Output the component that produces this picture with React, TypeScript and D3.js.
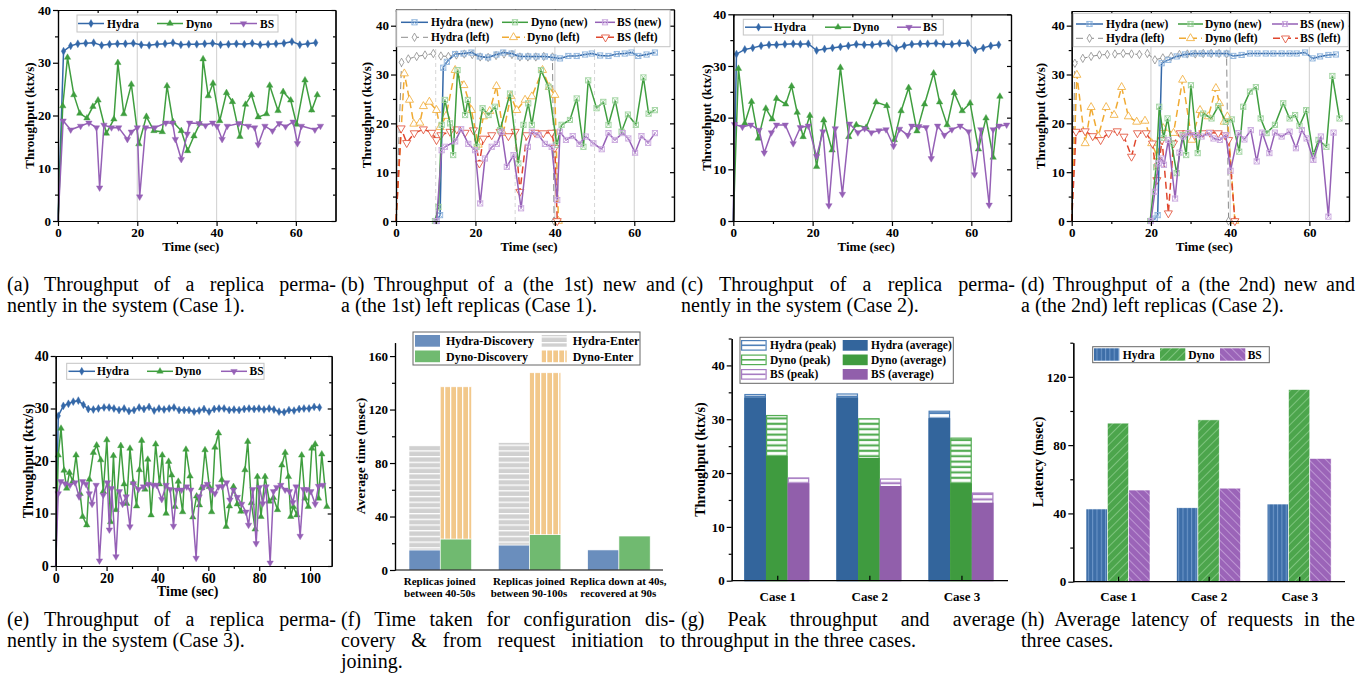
import React, { useEffect, useRef } from 'react';
import * as d3 from 'd3';

const SERIF = '"Liberation Serif", "Times New Roman", Times, serif';

const BLUE = '#3468a8';
const GREEN = '#3f9e3f';
const PURPLE = '#9560b6';
const GREY = '#8c8c8c';
const ORANGE = '#f0aa32';
const RED = '#e0472e';
const GRID = '#d6d6d6';

// (a) case 1, replica permanently in the system
const aHydraT = [0, 1.4, 3.2, 5, 7, 9, 11, 13, 15, 17, 19, 21, 23, 25, 27, 29, 31, 33, 35, 37, 39, 41, 43, 45, 47, 49, 51, 53, 55, 57, 59, 61, 63, 65];
const aHydraV = [0, 32.2, 33.2, 33.6, 33.7, 33.8, 33.3, 33.5, 33.6, 33.6, 33.7, 33.4, 33.3, 33.5, 33.6, 33.8, 33.4, 33.5, 33.5, 33.6, 33.7, 33.4, 33.5, 33.6, 33.5, 33.7, 33.4, 33.5, 33.6, 33.7, 34.0, 33.4, 33.6, 33.8];
const aDynoT = [0, 1.2, 2.4, 4.0, 5.5, 7.3, 8.8, 10.1, 12.2, 14.1, 15.1, 16.6, 18.5, 20.4, 22.3, 24.2, 26.3, 27.5, 29.0, 31.1, 32.7, 34.3, 35.8, 36.6, 37.9, 39.1, 40.8, 42.5, 44.0, 45.9, 47.3, 48.8, 50.5, 52.6, 53.4, 55.5, 56.8, 58.7, 60.2, 62.3, 64.0, 65.4];
const aDynoV = [0, 21.8, 31.0, 23.9, 20.4, 19.5, 21.7, 22.9, 16.6, 19.3, 30.0, 20.3, 25.9, 14.6, 19.8, 17.1, 16.9, 25.6, 18.8, 17.1, 13.3, 16.1, 18.5, 30.7, 23.7, 26.1, 19.0, 24.3, 22.6, 16.0, 22.1, 23.9, 19.7, 20.3, 25.7, 20.9, 24.5, 22.9, 18.3, 26.7, 21.0, 23.9];
const aBsT = [0, 1.3, 3.2, 5.7, 7.8, 9.7, 10.5, 11.6, 13.5, 15.3, 17.5, 18.5, 20.0, 20.6, 22.1, 24.4, 27.2, 28.9, 29.6, 31.1, 32.6, 33.2, 35.6, 37.2, 39.0, 40.1, 41.4, 42.7, 45.6, 48.0, 49.6, 50.5, 52.2, 54.1, 55.8, 57.4, 59.3, 60.4, 61.4, 64.8, 66.2];
const aBsV = [0, 19.0, 17.3, 18.0, 18.6, 17.7, 6.3, 18.2, 17.7, 17.7, 15.5, 16.9, 17.7, 4.6, 17.7, 17.7, 18.6, 18.6, 15.5, 11.7, 16.5, 18.6, 18.5, 18.1, 18.6, 18.0, 15.5, 18.0, 18.5, 18.0, 17.7, 14.5, 18.0, 17.1, 18.5, 17.9, 18.8, 14.7, 18.0, 17.3, 18.0];

// (b) case 1, new and left replicas
const bHydraLeftT = [0, 1.4, 3.1, 5.2, 7.3, 9.4, 11.3, 13.2, 15.2, 17.2, 19.2, 21.2, 23.2, 25.2, 27.2, 29.2, 31.2, 33.2, 35.2, 37.2, 39.4, 39.8];
const bHydraLeftV = [0, 32.5, 33.2, 33.7, 34.0, 34.3, 33.8, 33.7, 34.0, 34.2, 34.1, 33.6, 33.5, 33.9, 34.2, 34.1, 33.6, 33.6, 33.6, 33.7, 33.6, 0];
const bDynoLeftT = [0, 2.1, 3.4, 4.5, 6.0, 6.9, 8.4, 10.2, 11.1, 12.6, 14.9, 17.1, 19.0, 20.7, 22.0, 23.6, 25.3, 27.0, 28.9, 30.4, 32.5, 34.2, 36.9, 38.6, 40.0, 40.9];
const bDynoLeftV = [0, 30.2, 24.8, 19.9, 20.1, 23.5, 24.4, 22.7, 19.2, 21.5, 30.9, 27.8, 22.7, 15.6, 21.4, 22.5, 27.6, 18.0, 25.6, 22.7, 24.8, 25.5, 30.9, 27.4, 25.8, 0];
const bBsLeftT = [0, 1.3, 2.7, 4.6, 6.9, 9.0, 10.2, 11.3, 13.6, 15.3, 17.4, 19.5, 21.0, 22.0, 24.1, 26.2, 28.3, 30.0, 31.2, 32.9, 35.0, 37.1, 39.2, 40.0, 40.6];
const bBsLeftV = [0, 19.0, 16.0, 18.0, 18.8, 18.1, 16.6, 17.6, 18.3, 18.8, 18.1, 18.6, 11.8, 16.9, 17.6, 18.3, 17.4, 18.3, 6.0, 17.6, 18.1, 18.0, 18.1, 15.0, 0];
const bHydraNewT = [10.2, 11.1, 11.9, 12.8, 14.9, 17.0, 19.0, 21.1, 23.2, 25.3, 27.0, 29.1, 31.2, 33.3, 35.4, 37.5, 39.6, 41.3, 43.4, 45.5, 47.6, 49.3, 51.4, 53.5, 55.6, 57.6, 59.3, 61.0, 63.1, 65.2];
const bHydraNewV = [0, 1.2, 31.4, 32.6, 34.2, 34.3, 34.5, 33.7, 33.5, 34.1, 34.5, 34.3, 33.7, 33.7, 33.7, 33.7, 33.5, 33.3, 33.8, 33.8, 34.1, 34.3, 33.9, 33.8, 34.2, 34.3, 34.5, 33.8, 34.1, 34.5];
const bDynoNewT = [9.8, 10.7, 11.5, 12.3, 13.6, 14.4, 15.5, 17.4, 18.1, 20.3, 21.8, 23.3, 24.9, 26.2, 28.7, 30.8, 32.1, 33.3, 34.2, 36.5, 38.4, 40.5, 41.7, 43.8, 45.5, 47.2, 48.4, 50.5, 52.2, 53.5, 55.2, 56.8, 58.4, 60.4, 62.3, 63.6, 65.2];
const bDynoNewV = [0, 2.9, 19.7, 24.8, 20.0, 13.5, 30.9, 21.7, 24.8, 15.2, 23.1, 21.7, 23.4, 18.6, 26.1, 11.8, 19.7, 24.1, 19.7, 30.9, 27.5, 15.6, 19.7, 20.7, 25.1, 15.2, 28.8, 23.1, 24.4, 19.7, 24.7, 18.3, 21.8, 19.7, 29.4, 22.0, 22.7];
const bBsNewT = [10.2, 11.5, 12.3, 14.9, 16.4, 18.2, 19.9, 21.2, 22.4, 24.1, 25.4, 26.6, 27.9, 29.6, 31.5, 33.2, 34.2, 35.9, 37.5, 39.2, 40.6, 41.3, 42.8, 44.5, 46.2, 47.8, 49.7, 51.8, 53.5, 55.1, 57.1, 58.5, 60.2, 61.8, 63.5, 65.2];
const bBsNewV = [0, 14.5, 15.2, 16.3, 18.8, 15.8, 14.5, 3.6, 12.8, 15.2, 15.8, 18.3, 11.1, 13.5, 2.6, 15.2, 18.3, 17.6, 15.8, 15.2, 4.3, 18.3, 16.6, 17.4, 15.8, 17.3, 15.9, 14.7, 18.0, 16.6, 18.0, 16.9, 14.0, 17.4, 16.0, 18.0];

// (c) case 2, replica permanently in the system
const cHydraT = [0, 0.8, 2.9, 4.9, 7.0, 9.0, 10.9, 13.0, 15.1, 16.9, 18.9, 21.0, 23.0, 25.0, 27.0, 29.0, 31.0, 33.0, 35.0, 37.0, 39.1, 41.1, 43.1, 45.0, 47.1, 49.0, 51.1, 53.0, 55.1, 57.0, 59.1, 61.0, 63.0, 64.9, 66.9];
const cHydraV = [0, 32.3, 33.2, 33.5, 33.9, 34.1, 34.1, 34.2, 34.3, 34.2, 34.3, 33.0, 33.3, 33.5, 33.7, 33.9, 34.2, 34.1, 34.1, 34.3, 34.4, 33.4, 33.9, 34.2, 34.3, 34.3, 34.4, 34.2, 34.2, 34.4, 34.4, 33.1, 33.5, 33.9, 34.1];
const cDynoT = [0, 1.3, 2.9, 4.6, 6.3, 8.2, 9.8, 10.9, 13.2, 14.7, 16.1, 17.6, 19.3, 21.0, 22.8, 24.9, 27.0, 29.1, 31.0, 33.5, 36.0, 38.7, 40.6, 42.3, 44.2, 46.3, 48.2, 50.5, 52.0, 53.9, 55.7, 57.7, 59.7, 61.8, 63.7, 65.5, 67.2];
const cDynoV = [0, 29.5, 18.9, 23.1, 16.0, 21.8, 19.7, 23.7, 22.6, 26.1, 21.0, 16.3, 20.4, 10.5, 19.5, 13.7, 29.7, 16.3, 18.6, 18.1, 23.0, 22.3, 15.7, 21.3, 25.8, 17.4, 22.6, 28.6, 23.0, 18.6, 24.8, 21.3, 22.8, 13.9, 19.9, 12.3, 24.1];
const cBsT = [0, 0.3, 2.3, 4.4, 6.5, 7.8, 9.6, 10.9, 13.1, 15.1, 16.9, 18.9, 21.0, 22.6, 24.1, 25.7, 27.5, 29.3, 31.4, 33.1, 34.8, 36.7, 38.5, 40.4, 41.9, 44.0, 45.0, 46.8, 48.6, 49.9, 51.5, 53.2, 55.1, 57.2, 59.3, 60.8, 62.4, 64.5, 65.5, 67.0, 68.9];
const cBsV = [0, 18.7, 18.2, 18.6, 17.6, 13.2, 17.1, 18.6, 18.6, 15.0, 18.1, 18.4, 12.5, 17.3, 3.0, 17.9, 5.2, 18.8, 17.1, 17.9, 17.1, 17.5, 17.7, 14.5, 17.8, 16.6, 18.4, 18.3, 18.1, 12.1, 18.4, 16.6, 17.7, 18.4, 17.3, 9.0, 17.7, 3.1, 17.7, 18.4, 18.6];

// (d) case 2, new and left replicas
const dHydraLeftT = [0, 0.8, 2.8, 4.9, 7.0, 9.0, 10.9, 13.0, 15.1, 17.1, 19.1, 21.0, 23.0, 25.1, 27.2, 29.2, 31.2, 33.2, 35.2, 37.2, 39.1, 39.6];
const dHydraLeftV = [0, 32.3, 33.3, 33.7, 34.0, 34.1, 34.2, 34.3, 34.2, 34.1, 34.3, 33.0, 33.4, 33.7, 34.1, 34.2, 34.2, 34.3, 34.3, 34.3, 34.2, 0];
const dDynoLeftT = [0, 1.3, 3.4, 4.9, 6.7, 8.7, 10.7, 12.6, 14.3, 16.4, 18.5, 20.2, 21.6, 23.1, 25.7, 28.0, 30.3, 32.4, 34.5, 36.4, 37.3, 38.5, 39.3, 41.2];
const dDynoLeftV = [0, 29.9, 15.9, 23.3, 17.3, 23.3, 21.7, 27.4, 21.4, 20.3, 20.5, 15.9, 13.2, 19.0, 18.0, 28.9, 16.6, 22.7, 21.4, 27.2, 24.1, 20.3, 21.4, 0];
const dBsLeftT = [0, 1.1, 3.4, 5.3, 7.3, 9.3, 11.5, 13.2, 15.1, 16.6, 18.8, 20.4, 21.5, 22.8, 24.4, 25.7, 27.4, 29.0, 31.1, 33.1, 34.9, 37.0, 38.7, 39.6, 41.2];
const dBsLeftV = [0, 18.3, 18.4, 17.4, 16.6, 18.0, 18.4, 17.3, 13.2, 18.0, 18.0, 15.9, 8.4, 16.6, 1.6, 15.9, 18.0, 18.0, 17.6, 18.0, 18.1, 18.0, 17.6, 16.6, 0];
const dHydraNewT = [20.0, 21.0, 21.7, 22.7, 24.4, 26.5, 28.6, 30.7, 32.8, 34.9, 37.0, 39.1, 40.8, 42.9, 45.0, 46.9, 49.0, 50.9, 53.0, 55.0, 56.8, 58.9, 60.8, 62.7, 64.8, 66.7];
const dHydraNewV = [0, 0.5, 1.2, 32.3, 33.0, 33.7, 34.1, 34.3, 34.3, 34.3, 34.3, 34.3, 33.8, 34.0, 34.3, 34.3, 34.3, 34.3, 34.3, 34.3, 34.3, 34.5, 33.3, 33.7, 34.0, 34.1];
const dDynoNewT = [19.8, 21.3, 22.1, 23.2, 24.2, 25.2, 26.5, 28.0, 28.9, 30.1, 31.8, 33.2, 35.3, 37.0, 38.9, 40.4, 42.3, 43.3, 45.0, 46.5, 47.7, 49.2, 51.3, 53.4, 55.0, 56.4, 57.5, 59.2, 61.0, 62.3, 64.3, 65.8, 67.6];
const dDynoNewV = [0, 11.0, 23.4, 17.0, 21.0, 15.9, 9.8, 17.6, 13.5, 27.8, 13.9, 22.0, 21.0, 23.5, 20.3, 20.8, 14.2, 23.4, 26.5, 27.4, 21.0, 18.0, 19.7, 24.1, 21.0, 21.7, 19.5, 22.7, 13.5, 16.6, 15.2, 29.7, 21.0];
const dBsNewT = [20.0, 21.0, 21.9, 22.7, 23.3, 24.4, 26.1, 27.2, 28.2, 29.5, 31.3, 32.8, 34.7, 35.8, 37.4, 38.9, 40.1, 42.1, 43.6, 45.2, 46.7, 48.1, 49.9, 51.3, 53.0, 55.0, 56.6, 58.1, 59.3, 61.0, 62.9, 64.8, 66.1];
const dBsNewV = [0, 6.0, 11.8, 12.8, 11.5, 16.6, 4.6, 14.0, 17.3, 18.0, 17.6, 17.3, 18.0, 16.9, 16.6, 17.6, 10.3, 18.0, 16.7, 18.6, 12.2, 18.1, 13.9, 18.1, 17.3, 18.3, 14.9, 18.6, 16.9, 12.5, 17.3, 0.9, 18.1];

// (e) case 3, replica permanently in the system
const eHydraT = [0, 1.0, 3.0, 5.0, 6.9, 8.9, 10.9, 12.8, 14.8, 16.8, 19.0, 21.0, 22.9, 24.9, 26.9, 28.8, 30.8, 32.8, 34.7, 36.7, 38.7, 40.6, 42.6, 44.6, 46.5, 48.5, 50.5, 52.4, 54.4, 56.4, 58.3, 60.3, 62.3, 64.2, 66.2, 68.2, 70.1, 72.1, 74.1, 76.0, 78.0, 79.9, 81.9, 83.9, 85.8, 87.8, 89.8, 91.7, 93.7, 95.7, 97.6, 99.6, 101.6, 103.7];
const eHydraV = [0, 28.6, 30.5, 30.9, 31.3, 31.5, 30.7, 29.9, 29.8, 30.0, 30.2, 30.2, 30.0, 29.7, 30.0, 29.5, 29.7, 30.2, 29.9, 30.3, 29.6, 30.0, 29.8, 30.0, 30.2, 29.7, 29.7, 29.7, 29.4, 29.6, 29.9, 29.4, 29.9, 30.0, 30.0, 29.7, 29.8, 29.7, 29.9, 30.0, 29.9, 30.0, 29.8, 30.0, 29.8, 29.4, 29.3, 29.7, 29.6, 29.9, 30.0, 30.0, 30.3, 30.2];
const eDynoT = [0, 1.0, 2.1, 3.3, 4.3, 5.4, 6.7, 8.0, 9.6, 10.6, 12.2, 13.2, 14.8, 16.1, 17.7, 18.7, 20.1, 21.6, 22.7, 23.7, 25.6, 26.9, 27.9, 29.2, 30.5, 31.8, 32.9, 33.8, 35.1, 36.2, 37.5, 39.3, 40.8, 41.9, 43.4, 44.4, 45.6, 46.9, 48.2, 49.9, 51.2, 52.8, 53.9, 55.4, 56.5, 57.4, 58.7, 60.4, 61.3, 62.6, 64.0, 65.3, 67.0, 68.3, 69.9, 71.4, 72.8, 74.4, 75.5, 76.9, 78.4, 79.3, 80.7, 82.3, 84.0, 85.6, 87.2, 88.9, 90.2, 91.5, 92.4, 93.4, 94.8, 96.7, 98.0, 99.3, 100.7, 102.0, 103.3, 104.6, 106.6];
const eDynoV = [0, 21.1, 26.2, 18.2, 14.8, 17.8, 16.1, 21.1, 13.8, 9.4, 7.8, 16.5, 21.6, 23.0, 20.2, 14.2, 24.0, 8.4, 21.0, 10.7, 22.9, 15.6, 11.9, 22.4, 15.9, 11.4, 18.3, 23.9, 14.6, 20.3, 9.7, 23.2, 15.6, 21.1, 10.0, 19.9, 17.3, 11.3, 16.1, 10.3, 22.2, 17.1, 9.3, 13.3, 11.6, 14.9, 22.1, 15.1, 10.3, 22.6, 25.3, 16.4, 7.5, 11.4, 15.1, 11.8, 10.4, 18.3, 23.7, 12.0, 7.0, 17.0, 9.4, 17.0, 12.3, 13.0, 10.7, 19.2, 21.6, 17.0, 9.4, 11.3, 9.7, 21.1, 12.9, 11.3, 22.4, 23.2, 12.9, 21.3, 11.3];
const eBsT = [0, 1.0, 2.0, 3.7, 5.6, 7.6, 9.2, 10.6, 11.9, 13.2, 14.3, 15.9, 17.2, 18.7, 20.3, 21.1, 22.0, 23.7, 25.0, 26.3, 27.7, 29.2, 30.5, 32.5, 34.5, 36.4, 38.4, 39.7, 41.7, 43.4, 45.0, 46.3, 47.6, 49.5, 51.5, 53.1, 55.2, 56.4, 58.1, 59.6, 61.0, 62.6, 64.0, 65.5, 67.2, 68.5, 69.9, 71.4, 73.1, 74.8, 75.8, 77.5, 78.8, 80.1, 81.4, 82.7, 84.3, 85.6, 86.9, 88.5, 90.2, 91.9, 93.2, 94.5, 96.1, 97.4, 98.7, 100.3, 102.0, 103.3, 105.0];
const eBsV = [0, 13.8, 16.1, 15.7, 15.4, 15.9, 13.2, 16.1, 15.6, 13.8, 11.8, 15.4, 1.0, 13.5, 15.9, 6.9, 14.8, 1.8, 14.2, 11.8, 13.2, 7.5, 15.7, 14.6, 15.1, 15.6, 15.4, 15.4, 12.7, 15.4, 14.6, 7.6, 14.5, 14.5, 15.1, 14.5, 1.5, 13.2, 15.1, 15.6, 14.5, 13.8, 15.1, 15.1, 15.9, 12.6, 14.5, 13.1, 11.8, 10.3, 7.8, 14.6, 4.3, 15.0, 11.9, 15.1, 0.6, 14.2, 15.0, 15.4, 14.5, 14.2, 12.1, 15.1, 5.7, 14.6, 14.6, 14.2, 11.8, 15.2, 15.4];

// (f) discovery / enter time
const fGroups = ['g1', 'g2', 'g3'];
const fLabels = [['Replicas joined', 'between 40-50s'], ['Replicas joined', 'between 90-100s'], ['Replica down at 40s,', 'recovered at 90s']];
const fHydraDiscovery = [15.0, 18.7, 15.0];
const fHydraEnter = [78.0, 76.5, 0];
const fDynoDiscovery = [23.2, 26.4, 25.4];
const fDynoEnter = [113.8, 121.1, 0];

// (g) peak / average throughput
const cases = ['Case 1', 'Case 2', 'Case 3'];
const gPeakHydra = [34.7, 34.8, 31.6];
const gPeakDyno = [30.8, 30.2, 26.6];
const gPeakBs = [19.2, 19.0, 16.4];
const gAvgHydra = [34.0, 34.0, 30.2];
const gAvgDyno = [23.2, 22.8, 18.1];
const gAvgBs = [18.1, 17.6, 14.5];

// (h) latency
const hHydra = [42.6, 43.3, 45.5];
const hDyno = [92.9, 94.8, 112.6];
const hBs = [53.7, 54.8, 72.2];

const captions = [
  { col: 0, row: 0, lines: ['(a) Throughput of a replica perma-', 'nently in the system (Case 1).'] },
  { col: 1, row: 0, lines: ['(b) Throughput of a (the 1st) new and', 'a (the 1st) left replicas (Case 1).'] },
  { col: 2, row: 0, lines: ['(c) Throughput of a replica perma-', 'nently in the system (Case 2).'] },
  { col: 3, row: 0, lines: ['(d) Throughput of a (the 2nd) new and', 'a (the 2nd) left replicas (Case 2).'] },
  { col: 0, row: 1, lines: ['(e) Throughput of a replica perma-', 'nently in the system (Case 3).'] },
  { col: 1, row: 1, lines: ['(f) Time taken for configuration dis-', 'covery & from request initiation to', 'joining.'] },
  { col: 2, row: 1, lines: ['(g) Peak throughput and average', 'throughput in the three cases.'] },
  { col: 3, row: 1, lines: ['(h) Average latency of requests in the', 'three cases.'] },
];

const S = (name, t, v, color, mark, extra = {}) => ({ name, t, v, color, mark, ...extra });

const hA = S('Hydra', aHydraT, aHydraV, BLUE, 'diamond');
const dA = S('Dyno', aDynoT, aDynoV, GREEN, 'tri');
const bA = S('BS', aBsT, aBsV, PURPLE, 'tridown');
const hbL = S('Hydra (left)', bHydraLeftT, bHydraLeftV, GREY, 'odiamond', { dash: '7,4', width: 1 });
const dbL = S('Dyno (left)', bDynoLeftT, bDynoLeftV, ORANGE, 'otri', { dash: '7,4' });
const bbL = S('BS (left)', bBsLeftT, bBsLeftV, RED, 'otridown', { dash: '7,4' });
const hbN = S('Hydra (new)', bHydraNewT, bHydraNewV, BLUE, 'xsq', { mcolor: '#8fb4dc' });
const dbN = S('Dyno (new)', bDynoNewT, bDynoNewV, GREEN, 'xsq', { mcolor: '#9fd39f' });
const bbN = S('BS (new)', bBsNewT, bBsNewV, PURPLE, 'xsq', { mcolor: '#caa8de' });
const hC = S('Hydra', cHydraT, cHydraV, BLUE, 'diamond');
const dC = S('Dyno', cDynoT, cDynoV, GREEN, 'tri');
const bC = S('BS', cBsT, cBsV, PURPLE, 'tridown');
const hdL = S('Hydra (left)', dHydraLeftT, dHydraLeftV, GREY, 'odiamond', { dash: '7,4', width: 1 });
const ddL = S('Dyno (left)', dDynoLeftT, dDynoLeftV, ORANGE, 'otri', { dash: '7,4' });
const bdL = S('BS (left)', dBsLeftT, dBsLeftV, RED, 'otridown', { dash: '7,4' });
const hdN = S('Hydra (new)', dHydraNewT, dHydraNewV, BLUE, 'xsq', { mcolor: '#8fb4dc' });
const ddN = S('Dyno (new)', dDynoNewT, dDynoNewV, GREEN, 'xsq', { mcolor: '#9fd39f' });
const bdN = S('BS (new)', dBsNewT, dBsNewV, PURPLE, 'xsq', { mcolor: '#caa8de' });
const hE = S('Hydra', eHydraT, eHydraV, BLUE, 'diamond');
const dE = S('Dyno', eDynoT, eDynoV, GREEN, 'tri');
const bE = S('BS', eBsT, eBsV, PURPLE, 'tridown');

const linePanels = [
  {
    x0: 58, x1: 335.5, y0: 221, y1: 10, xMax: 70, yMax: 40, fs: 13, yLabX: 29,
    grid: [20, 40, 60], dashGrid: [], series: [hA, dA, bA],
    box: [77, 15, 201, 17],
    legend: [[hA, 78, 104, 107, 23.5], [dA, 157, 183, 186, 23.5], [bA, 230, 257, 260, 23.5]],
  },
  {
    x0: 396, x1: 674, y0: 221, y1: 9.3, xMax: 70, yMax: 43.36, fs: 13, yLabX: 366,
    grid: [20, 40, 60], dashGrid: [10, 30, 50], series: [hbL, dbL, bbL, hbN, dbN, bbN],
    box: [396.7, 10, 273.3, 36.7],
    legend: [[hbN, 401, 428, 431, 22.3], [dbN, 502, 528, 531, 22.3], [bbN, 595, 615, 617, 22.3],
      [hbL, 401, 428, 431, 37.3], [dbL, 502, 525, 527, 37.3], [bbL, 596, 615, 617, 37.3]],
  },
  {
    x0: 733.3, x1: 1011, y0: 221, y1: 14.3, xMax: 70, yMax: 40, fs: 13, yLabX: 706,
    grid: [20, 40, 60], dashGrid: [], series: [hC, dC, bC],
    box: [743.3, 19.3, 200, 15.7],
    legend: [[hC, 745, 772, 774, 27.2], [dC, 825, 851, 853, 27.2], [bC, 897, 921, 923, 27.2]],
  },
  {
    x0: 1071.7, x1: 1349, y0: 221, y1: 11, xMax: 70, yMax: 43.0, fs: 13, yLabX: 1040,
    grid: [20, 40, 60], dashGrid: [], series: [hdL, ddL, bdL, hdN, ddN, bdN],
    box: [1073.3, 13.3, 275, 33.4],
    legend: [[hdN, 1076, 1103, 1106, 24], [ddN, 1178, 1203, 1205, 24], [bdN, 1272, 1298, 1300, 24],
      [hdL, 1076, 1103, 1106, 38.3], [ddL, 1179, 1202, 1205, 38.3], [bdL, 1273, 1298, 1300, 38.3]],
  },
  {
    x0: 55.7, x1: 331.7, y0: 566, y1: 356, xMax: 108.5, yMax: 40, fs: 14, yLabX: 28.3,
    grid: [], dashGrid: [], series: [hE, dE, bE],
    box: [66.7, 363.3, 197.3, 16],
    legend: [[hE, 68.5, 95, 97, 371.3], [dE, 147, 173, 175, 371.3], [bE, 221, 247, 249.5, 371.3]],
  },
];

const drawMarker = (g, s, cx, cy) => {
  if (s.mark === 'xsq') {
    const r = 2.6;
    const c = s.mcolor;
    g.append('rect').attr('x', cx - r).attr('y', cy - r).attr('width', 2 * r).attr('height', 2 * r)
      .attr('fill', 'none').attr('stroke', c).attr('stroke-width', 0.9);
    g.append('path').attr('d', `M${cx - r},${cy - r}L${cx + r},${cy + r}M${cx + r},${cy - r}L${cx - r},${cy + r}`)
      .attr('stroke', c).attr('stroke-width', 0.9);
    return;
  }
  const dia = s.mark.indexOf('diamond') >= 0;
  const open = s.mark[0] === 'o';
  const down = s.mark.indexOf('down') >= 0;
  const size = dia ? (open ? 20 : 18) : (open ? 28 : 18);
  g.append('path')
    .attr('d', d3.symbol().type(dia ? d3.symbolDiamond : d3.symbolTriangle).size(size)())
    .attr('transform', `translate(${cx},${cy}) rotate(${down ? 180 : 0})`)
    .attr('fill', open ? '#fff' : s.color)
    .attr('stroke', s.color)
    .attr('stroke-width', open ? 0.8 : 0.4);
};

const styleAxis = (a, fs) => {
  a.attr('font-family', SERIF).attr('font-size', fs).attr('font-weight', 'bold');
  a.select('.domain').attr('stroke', '#000').attr('stroke-width', 1.2);
  a.selectAll('.tick line').attr('stroke', '#000').attr('stroke-width', 1.2);
  a.selectAll('.tick text').attr('fill', '#000');
  return a;
};

const lineChart = (svg, p) => {
  const x = d3.scaleLinear().domain([0, p.xMax]).range([p.x0, p.x1]);
  const y = d3.scaleLinear().domain([0, p.yMax]).range([p.y0, p.y1]);
  const g = svg.append('g');

  p.grid.forEach(t => g.append('line').attr('x1', x(t)).attr('x2', x(t)).attr('y1', p.y0).attr('y2', p.y1)
    .attr('stroke', GRID).attr('stroke-width', 1.2));
  p.dashGrid.forEach(t => g.append('line').attr('x1', x(t)).attr('x2', x(t)).attr('y1', p.y0).attr('y2', p.y1)
    .attr('stroke', GRID).attr('stroke-width', 1).attr('stroke-dasharray', '4,3'));

  p.series.forEach(s => {
    const pts = s.t.map((t, i) => [t, s.v[i]]);
    g.append('path').datum(pts)
      .attr('d', d3.line().x(d => x(d[0])).y(d => y(d[1])))
      .attr('fill', 'none').attr('stroke', s.color).attr('stroke-width', s.width || 1.5)
      .attr('stroke-dasharray', s.dash || null);
    pts.forEach(d => { if (d[0] > 0) drawMarker(g, s, x(d[0]), y(d[1])); });
  });

  const xMajor = d3.range(0, p.xMax + 0.01, 20);
  const xMinor = d3.range(10, p.xMax, 20);
  const yMajor = [0, 10, 20, 30, 40];
  const yMinor = [5, 15, 25, 35];

  styleAxis(g.append('g').attr('transform', `translate(0,${p.y0})`)
    .call(d3.axisBottom(x).tickValues(xMajor).tickSize(5).tickSizeOuter(0).tickPadding(2).tickFormat(d3.format('d'))), p.fs);
  styleAxis(g.append('g').attr('transform', `translate(0,${p.y0})`)
    .call(d3.axisBottom(x).tickValues(xMinor).tickSize(3).tickSizeOuter(0).tickFormat(() => '')), p.fs);
  styleAxis(g.append('g').attr('transform', `translate(0,${p.y1})`)
    .call(d3.axisBottom(x).tickValues(xMajor.concat(xMinor)).tickSize(3).tickSizeOuter(0).tickFormat(() => '')), p.fs);
  styleAxis(g.append('g').attr('transform', `translate(${p.x0},0)`)
    .call(d3.axisLeft(y).tickValues(yMajor).tickSize(5).tickSizeOuter(0).tickPadding(2)), p.fs);
  styleAxis(g.append('g').attr('transform', `translate(${p.x0},0)`)
    .call(d3.axisLeft(y).tickValues(yMinor).tickSize(3).tickSizeOuter(0).tickFormat(() => '')), p.fs);
  const right = styleAxis(g.append('g').attr('transform', `translate(${p.x1},0)`)
    .call(d3.axisLeft(y).tickValues(yMajor).tickSize(4).tickSizeOuter(0).tickFormat(() => '')), p.fs);
  styleAxis(g.append('g').attr('transform', `translate(${p.x1},0)`)
    .call(d3.axisLeft(y).tickValues(yMinor).tickSize(2.5).tickSizeOuter(0).tickFormat(() => '')), p.fs);
  right.raise();

  g.append('text').attr('x', (p.x0 + p.x1) / 2 - 6).attr('y', p.y0 + 30)
    .attr('text-anchor', 'middle').attr('font-family', SERIF).attr('font-weight', 'bold').attr('font-size', p.fs)
    .text('Time (sec)');
  g.append('text').attr('transform', `translate(${p.yLabX + 4.5},${(p.y0 + p.y1) / 2}) rotate(-90)`)
    .attr('text-anchor', 'middle').attr('font-family', SERIF).attr('font-weight', 'bold').attr('font-size', p.fs)
    .text('Throughput (ktx/s)');

  const [bx, by, bw, bh] = p.box;
  g.append('rect').attr('x', bx).attr('y', by).attr('width', bw).attr('height', bh)
    .attr('fill', '#fff').attr('stroke', '#c4c4c4').attr('stroke-width', 1);
  p.legend.forEach(([s, l, r, tx, ly]) => {
    g.append('line').attr('x1', l).attr('x2', r).attr('y1', ly).attr('y2', ly)
      .attr('stroke', s.color).attr('stroke-width', s.width || 1.5).attr('stroke-dasharray', s.dash || null);
    drawMarker(g, s, (l + r) / 2, ly);
    g.append('text').attr('x', tx).attr('y', ly + 4).attr('font-family', SERIF).attr('font-weight', 'bold')
      .attr('font-size', 11.5).text(s.name);
  });
};

const makeDefs = svg => {
  const defs = svg.append('defs');
  const pat = (id, w, h, bg, fg, lx, ly, lw, lh, rot = 0) => {
    const p = defs.append('pattern').attr('id', id).attr('patternUnits', 'userSpaceOnUse')
      .attr('width', w).attr('height', h);
    if (rot) p.attr('patternTransform', `rotate(${rot})`);
    p.append('rect').attr('width', w).attr('height', h).attr('fill', bg);
    p.append('rect').attr('x', lx).attr('y', ly).attr('width', lw).attr('height', lh).attr('fill', fg);
  };
  pat('hEnter', 10, 5.7, '#d0d0d0', '#ffffff', 0, 0, 10, 1.3);
  pat('dEnter', 6, 10, '#f2c88b', '#ffffff', 0, 0, 1.3, 10);
  pat('hPeak', 10, 5.4, '#ffffff', '#4f80b8', 0, 1.5, 10, 2.2);
  pat('dPeak', 10, 5.4, '#ffffff', '#55ad55', 0, 1.5, 10, 2.2);
  pat('bPeak', 10, 5.4, '#ffffff', '#a77cc2', 0, 1.5, 10, 2.2);
  pat('hLat', 4.3, 10, '#3d6ea8', '#7099ca', 0, 0, 1, 10);
  pat('dLat', 6, 10, '#4ca54c', '#7ec47e', 0, 0, 1, 10, 45);
  pat('bLat', 6, 10, '#9b64b8', '#bd95d3', 0, 0, 1, 10, -45);
};

const barAxes = (g, x0, x1, y, yMajor, yMinor, fs, centers) => {
  styleAxis(g.append('g').attr('transform', `translate(${x0},0)`)
    .call(d3.axisLeft(y).tickValues(yMajor).tickSize(5).tickSizeOuter(0).tickPadding(2)), fs);
  styleAxis(g.append('g').attr('transform', `translate(${x0},0)`)
    .call(d3.axisLeft(y).tickValues(yMinor).tickSize(3).tickSizeOuter(0).tickFormat(() => '')), fs);
  const base = y(0);
  g.append('line').attr('x1', x0).attr('x2', x1).attr('y1', base).attr('y2', base)
    .attr('stroke', '#000').attr('stroke-width', 1.2);
  centers.forEach(c => g.append('line').attr('x1', c).attr('x2', c).attr('y1', base).attr('y2', base - 5)
    .attr('stroke', '#000').attr('stroke-width', 1.2));
};

const yTitle = (g, cx, cy, fs, txt) => g.append('text')
  .attr('transform', `translate(${cx + 4.5},${cy}) rotate(-90)`).attr('text-anchor', 'middle')
  .attr('font-family', SERIF).attr('font-weight', 'bold').attr('font-size', fs).text(txt);

const legendText = (g, x, y, fs, txt) => g.append('text').attr('x', x).attr('y', y)
  .attr('font-family', SERIF).attr('font-weight', 'bold').attr('font-size', fs).text(txt);

const panelF = svg => {
  const g = svg.append('g');
  const x = d3.scaleBand().domain(fGroups).range([395, 663]);
  const xs = d3.scaleBand().domain(['Hydra', 'Dyno']).range([14, 76.5]);
  const y = d3.scaleLinear().domain([0, 170]).range([570, 342.7]);
  const bw = xs.bandwidth();
  fGroups.forEach((grp, i) => {
    const hx = x(grp) + xs('Hydra');
    const dx = x(grp) + xs('Dyno');
    const stack = (bx, lo, hi, fill) => {
      if (hi <= lo) return;
      g.append('rect').attr('x', bx).attr('y', y(hi)).attr('width', bw).attr('height', y(lo) - y(hi))
        .attr('fill', fill).attr('stroke', '#fff').attr('stroke-width', 0.6);
    };
    stack(hx, 0, fHydraDiscovery[i], '#6a8ebd');
    stack(hx, fHydraDiscovery[i], fHydraDiscovery[i] + fHydraEnter[i], 'url(#hEnter)');
    stack(dx, 0, fDynoDiscovery[i], '#70ba70');
    stack(dx, fDynoDiscovery[i], fDynoDiscovery[i] + fDynoEnter[i], 'url(#dEnter)');
    fLabels[i].forEach((ln, k) => g.append('text').attr('x', x(grp) + x.bandwidth() / 2).attr('y', 585 + k * 12)
      .attr('text-anchor', 'middle').attr('font-family', SERIF).attr('font-weight', 'bold').attr('font-size', 11)
      .text(ln));
  });
  barAxes(g, 395, 663, y, [0, 40, 80, 120, 160], [20, 60, 100, 140], 13, []);
  yTitle(g, 360, 456, 13.5, 'Average time (msec)');

  g.append('rect').attr('x', 413).attr('y', 332).attr('width', 227).attr('height', 33)
    .attr('fill', '#fff').attr('stroke', '#666').attr('stroke-width', 1);
  const items = [
    ['#6a8ebd', 'Hydra-Discovery', 415, 335], ['url(#hEnter)', 'Hydra-Enter', 541.7, 335],
    ['#70ba70', 'Dyno-Discovery', 415, 350.5], ['url(#dEnter)', 'Dyno-Enter', 541.7, 350.5],
  ];
  items.forEach(([fill, name, sx, sy]) => {
    g.append('rect').attr('x', sx).attr('y', sy).attr('width', 25).attr('height', 11.7).attr('fill', fill);
    legendText(g, sx + 31, sy + 10, 12, name);
  });
};

const panelG = svg => {
  const g = svg.append('g');
  const x = d3.scaleBand().domain(cases).range([731.7, 1008]);
  const xs = d3.scaleBand().domain(['Hydra', 'Dyno', 'BS']).range([12.6, 77.6]);
  const y = d3.scaleLinear().domain([0, 45]).range([580.7, 338.5]);
  const bw = xs.bandwidth();
  const series = [
    ['Hydra', gPeakHydra, gAvgHydra, '#33659c', '#4f80b8', 'url(#hPeak)'],
    ['Dyno', gPeakDyno, gAvgDyno, '#3f9b3f', '#55ad55', 'url(#dPeak)'],
    ['BS', gPeakBs, gAvgBs, '#915fab', '#a77cc2', 'url(#bPeak)'],
  ];
  cases.forEach((c, i) => {
    series.forEach(([key, peak, avg, fill, edge, pfill]) => {
      const bx = x(c) + xs(key);
      g.append('rect').attr('x', bx + 0.6).attr('y', y(peak[i]) + 0.6).attr('width', bw - 1.2)
        .attr('height', y(0) - y(peak[i]) - 0.6).attr('fill', pfill).attr('stroke', edge).attr('stroke-width', 1.2);
      g.append('rect').attr('x', bx).attr('y', y(avg[i])).attr('width', bw).attr('height', y(0) - y(avg[i]))
        .attr('fill', fill);
    });
    g.append('text').attr('x', x(c) + x.bandwidth() / 2).attr('y', 601).attr('text-anchor', 'middle')
      .attr('font-family', SERIF).attr('font-weight', 'bold').attr('font-size', 13).text(c);
  });
  barAxes(g, 731.7, 1008, y, [0, 10, 20, 30, 40], [5, 15, 25, 35, 45], 13,
    cases.map(c => x(c) + x.bandwidth() / 2));
  yTitle(g, 700, 459.6, 14, 'Throughput (ktx/s)');

  g.append('rect').attr('x', 740).attr('y', 337.3).attr('width', 213.3).attr('height', 46)
    .attr('fill', '#fff').attr('stroke', '#666').attr('stroke-width', 1);
  const names = ['Hydra', 'Dyno', 'BS'];
  series.forEach(([key, , , fill, edge], r) => {
    const sy = 340 + r * 14.5;
    g.append('rect').attr('x', 741.6).attr('y', sy + 0.6).attr('width', 24.5).attr('height', 9.5)
      .attr('fill', '#fff').attr('stroke', edge).attr('stroke-width', 1.2);
    g.append('line').attr('x1', 742).attr('x2', 765.6).attr('y1', sy + 5.3).attr('y2', sy + 5.3)
      .attr('stroke', edge).attr('stroke-width', 1.6);
    legendText(g, 770, sy + 9, 11.5, `${names[r]} (peak)`);
    g.append('rect').attr('x', 842.7).attr('y', sy).attr('width', 25).attr('height', 10.7).attr('fill', fill);
    legendText(g, 871, sy + 9, 11.5, `${names[r]} (average)`);
  });
};

const panelH = svg => {
  const g = svg.append('g');
  const x = d3.scaleBand().domain(cases).range([1073.3, 1345]);
  const xs = d3.scaleBand().domain(['Hydra', 'Dyno', 'BS']).range([12.7, 76.7]);
  const y = d3.scaleLinear().domain([0, 140]).range([581.7, 342.7]);
  const bw = xs.bandwidth();
  const series = [['Hydra', hHydra, 'url(#hLat)'], ['Dyno', hDyno, 'url(#dLat)'], ['BS', hBs, 'url(#bLat)']];
  cases.forEach((c, i) => {
    series.forEach(([key, vals, fill]) => {
      g.append('rect').attr('x', x(c) + xs(key)).attr('y', y(vals[i])).attr('width', bw)
        .attr('height', y(0) - y(vals[i])).attr('fill', fill).attr('stroke', '#fff').attr('stroke-width', 0.6);
    });
    g.append('text').attr('x', x(c) + x.bandwidth() / 2).attr('y', 601).attr('text-anchor', 'middle')
      .attr('font-family', SERIF).attr('font-weight', 'bold').attr('font-size', 13).text(c);
  });
  barAxes(g, 1073.3, 1345, y, [0, 40, 80, 120], [20, 60, 100, 140], 13,
    cases.map(c => x(c) + x.bandwidth() / 2));
  yTitle(g, 1038.3, 462, 14, 'Latency (msec)');

  g.append('rect').attr('x', 1092.7).attr('y', 346.7).attr('width', 176.6).attr('height', 16)
    .attr('fill', '#fff').attr('stroke', '#666').attr('stroke-width', 1);
  [[1094, 1122.7], [1160, 1188.3], [1220, 1247.7]].forEach(([sx, tx], k) => {
    g.append('rect').attr('x', sx).attr('y', 348.3).attr('width', 25.3).attr('height', 12.4).attr('fill', series[k][2]);
    legendText(g, tx, 358.5, 11.5, series[k][0]);
  });
};

const drawCaptions = svg => {
  const colX = [7, 341, 681, 1021];
  const colW = [329, 334, 334, 334];
  const rowY = [291, 626];
  captions.forEach(cap => {
    cap.lines.forEach((ln, i) => {
      const t = svg.append('text').attr('x', colX[cap.col]).attr('y', rowY[cap.row] + i * 21)
        .attr('font-family', SERIF).attr('font-size', 20).attr('fill', '#000').text(ln);
      const w = t.node().getComputedTextLength();
      const W = colW[cap.col];
      const last = i === cap.lines.length - 1;
      if (w > W) t.attr('textLength', W).attr('lengthAdjust', 'spacingAndGlyphs');
      else if (!last) {
        const gaps = ln.split(' ').length - 1;
        if (gaps > 0) t.attr('word-spacing', (W - w) / gaps);
      }
    });
  });
};

export default function App() {
  const ref = useRef(null);
  useEffect(() => {
    const svg = d3.select(ref.current);
    svg.selectAll('*').remove();
    makeDefs(svg);
    linePanels.forEach(p => lineChart(svg, p));
    panelF(svg);
    panelG(svg);
    panelH(svg);
    drawCaptions(svg);
  }, []);
  return (
    <svg ref={ref} width={1364} height={686}
      style={{ position: 'absolute', left: 0, top: 0, background: '#fff', display: 'block' }} />
  );
}
